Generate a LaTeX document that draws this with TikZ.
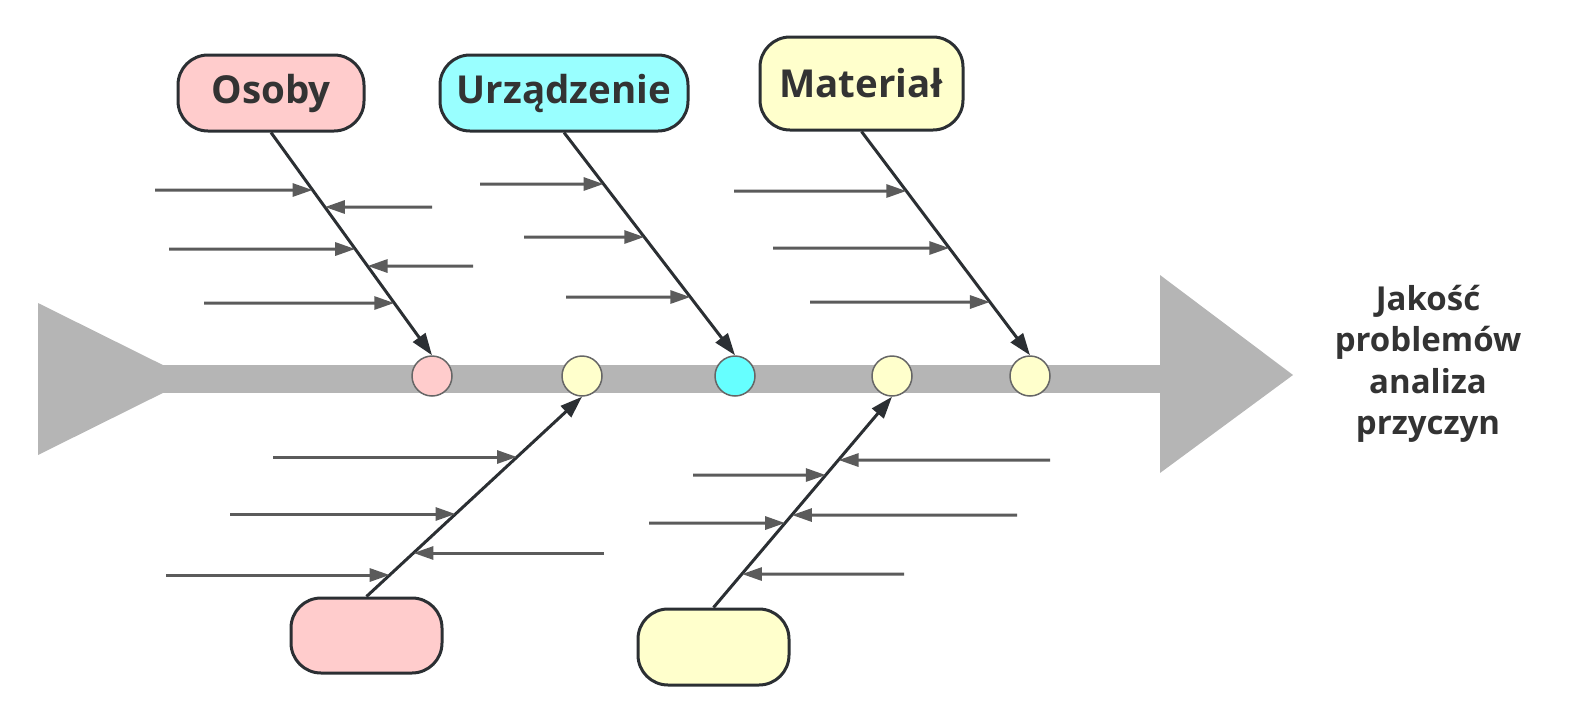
\documentclass[tikz,border=0pt]{standalone}
\usepackage{fontspec}
\setmainfont{Open Sans}
\usetikzlibrary{arrows.meta}
\definecolor{bandc}{HTML}{B5B5B5}
\definecolor{pinkc}{HTML}{FFCCCC}
\definecolor{cyanbox}{HTML}{99FFFF}
\definecolor{cyandot}{HTML}{66FFFF}
\definecolor{yellc}{HTML}{FFFFCC}
\definecolor{edgec}{HTML}{2B2F33}
\definecolor{ribc}{HTML}{5B5B5B}
\definecolor{textc}{HTML}{333333}
\definecolor{dotline}{HTML}{666666}
\newcommand\ribline[5]{%
  \coordinate (#1) at (#4,#5);
  \coordinate (#1e) at (intersection of #2--#3 and #4,#5--0,#5);
  \draw[ribarrow] (#1) -- (#1e);}
\begin{document}
\begin{tikzpicture}[x=1pt,y=-1pt,
  catbox/.style={draw=edgec, line width=3pt, rounded corners=30pt, inner sep=0pt,
    font=\bfseries\fontsize{38.5}{44}\selectfont, text=textc},
  dot/.style={circle, draw=dotline, line width=1.5pt, minimum size=40pt, inner sep=0pt},
  bone/.style={draw=edgec, line width=3pt, -{Triangle[length=22pt,width=15pt]}},
  ribarrow/.style={draw=ribc, line width=3pt, -{Triangle[length=20pt,width=13pt]}}]
\useasboundingbox (0,0) rectangle (1571,723);
% spine
\fill[bandc] (38,303) -- (191,379) -- (38,455) -- cycle;
\fill[bandc] (160,365) rectangle (1162,393);
\fill[bandc] (1160,275) -- (1293,375) -- (1160,473) -- cycle;
% category boxes
\node[catbox, fill=pinkc, minimum width=186pt, minimum height=76pt] (osoby) at (271,93) {Osoby};
\node[catbox, fill=cyanbox, minimum width=248pt, minimum height=76pt] (urz) at (564,93) {Urządzenie};
\node[catbox, fill=yellc, minimum width=203pt, minimum height=93pt] (mat) at (861.5,83.5) {Materiał};
\node[catbox, fill=pinkc, minimum width=151pt, minimum height=75pt] (lpink) at (366.5,635.5) {};
\node[catbox, fill=yellc, minimum width=151pt, minimum height=76pt] (lyell) at (713.5,647) {};
% dots on spine
\node[dot, fill=pinkc] (c1) at (432,376) {};
\node[dot, fill=yellc] (c2) at (582,376) {};
\node[dot, fill=cyandot] (c3) at (735,376) {};
\node[dot, fill=yellc] (c4) at (892,376) {};
\node[dot, fill=yellc] (c5) at (1030,376) {};
% result text
\node[font=\bfseries\fontsize{33}{41.5}\selectfont, text=textc, align=center] (res) at (1428,364)
  {Jakość\\problemów\\analiza\\przyczyn};
% bones
\coordinate (b1a) at (osoby.south); \coordinate (b1b) at (c1.north);
\coordinate (b2a) at (urz.south);   \coordinate (b2b) at (c3.north);
\coordinate (b3a) at (mat.south);   \coordinate (b3b) at (c5.north);
\coordinate (b4a) at (lpink.north); \coordinate (b4b) at (c2.south);
\coordinate (b5a) at (lyell.north); \coordinate (b5b) at (c4.south);
\draw[bone] (osoby.south) -- (c1.north);
\draw[bone] (urz.south) -- (c3.north);
\draw[bone] (mat.south) -- (c5.north);
\draw[bone] (lpink.north) -- (c2.south);
\draw[bone] (lyell.north) -- (c4.south);
% ribs - Osoby
\ribline{r11}{b1a}{b1b}{155}{190}
\ribline{r12}{b1a}{b1b}{432}{207}
\ribline{r13}{b1a}{b1b}{169}{249}
\ribline{r14}{b1a}{b1b}{473}{266}
\ribline{r15}{b1a}{b1b}{204}{303}
% ribs - Urzadzenie
\ribline{r21}{b2a}{b2b}{480}{184}
\ribline{r22}{b2a}{b2b}{524}{237}
\ribline{r23}{b2a}{b2b}{566}{297}
% ribs - Material
\ribline{r31}{b3a}{b3b}{734}{191}
\ribline{r32}{b3a}{b3b}{773}{248}
\ribline{r33}{b3a}{b3b}{810}{302}
% ribs - lower left
\ribline{r41}{b4a}{b4b}{273}{457}
\ribline{r42}{b4a}{b4b}{230}{514}
\ribline{r43}{b4a}{b4b}{604}{553}
\ribline{r44}{b4a}{b4b}{166}{575}
% ribs - lower right
\ribline{r51}{b5a}{b5b}{1050}{460}
\ribline{r52}{b5a}{b5b}{693}{475}
\ribline{r53}{b5a}{b5b}{1017}{515}
\ribline{r54}{b5a}{b5b}{649}{523}
\ribline{r55}{b5a}{b5b}{904}{574}
\end{tikzpicture}
\end{document}
